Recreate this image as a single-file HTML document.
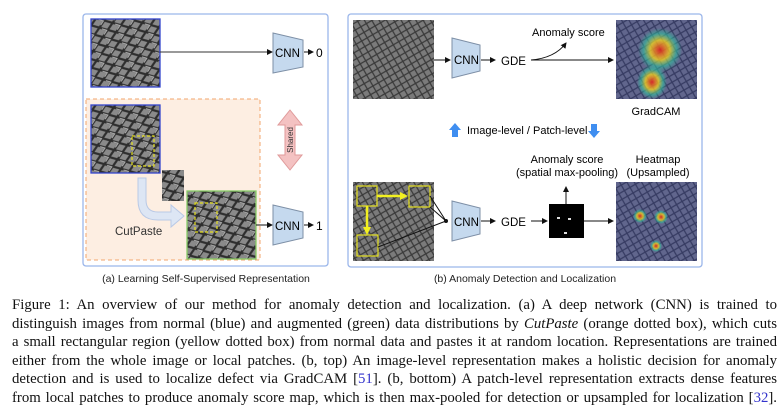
<!DOCTYPE html>
<html><head><meta charset="utf-8"><style>
body{margin:0;width:784px;height:410px;background:#fff;overflow:hidden;position:relative;}
svg{position:absolute;left:0;top:0;}
.cap{position:absolute;left:12px;width:765px;font-family:"Liberation Serif",serif;font-size:14.8px;color:#111;}
.cap div{height:18.6px;line-height:18.6px;text-align:justify;text-align-last:justify;overflow:hidden;}
.b{color:#3333cc}
</style></head><body>
<svg width="784" height="290" viewBox="0 0 784 290" font-family="Liberation Sans, sans-serif">
<defs>
<pattern id="mesh" width="14" height="10" patternUnits="userSpaceOnUse" patternTransform="rotate(-20)">
<rect width="14" height="10" fill="#8a8a8a"/>
<path d="M0 0 L7 5 L0 10 M14 0 L7 5 L14 10" stroke="#2e2e2e" stroke-width="2.2" fill="none"/>
<path d="M2 2 L6 5 L2 8" stroke="#b5b5b5" stroke-width="1" fill="none"/>
</pattern>
<pattern id="mesh2" width="9" height="9" patternUnits="userSpaceOnUse" patternTransform="rotate(15)">
<rect width="9" height="9" fill="#7b7b7b"/>
<path d="M0 0 L9 9 M9 0 L0 9" stroke="#3a3a3a" stroke-width="1.3"/>
</pattern>
<radialGradient id="hot"><stop offset="0" stop-color="#e02020" stop-opacity=".9"/><stop offset=".45" stop-color="#f0d020" stop-opacity=".8"/><stop offset=".75" stop-color="#30c0a0" stop-opacity=".6"/><stop offset="1" stop-color="#30c0a0" stop-opacity="0"/></radialGradient>
<marker id="ar" markerWidth="6" markerHeight="6" refX="5" refY="3" orient="auto"><path d="M0 0L6 3L0 6z" fill="#111"/></marker>
</defs>
<rect x="83" y="14" width="245" height="252" rx="3" fill="#fff" stroke="#9bb6ea" stroke-width="1.3"/>
<rect x="86" y="99" width="174" height="161" fill="#fdeee2" stroke="#f2a56c" stroke-dasharray="4 3"/>
<rect x="91" y="19" width="69" height="68" fill="url(#mesh)" stroke="#3344cc" stroke-width="1.3"/>
<line x1="160" y1="52" x2="272" y2="52" stroke="#333" marker-end="url(#ar)"/>
<path d="M273 33 L303 40 L303 67 L273 73z" fill="#c5d9ee" stroke="#7d8fa6"/>
<text x="275" y="57" font-size="11.5">CNN</text>
<line x1="304" y1="52" x2="313" y2="52" stroke="#111" marker-end="url(#ar)"/>
<text x="316" y="57" font-size="12">0</text>
<rect x="91" y="105" width="69" height="68" fill="url(#mesh)" stroke="#3344cc" stroke-width="1.3"/>
<rect x="132" y="136" width="22" height="30" fill="none" stroke="#e5e020" stroke-dasharray="3 2" stroke-width="1.2"/>
<rect x="162" y="170" width="22" height="31" fill="url(#mesh)"/>
<path d="M138 178 L146 178 L146 200 Q146 212 158 212 L171 212 L171 205 L184 216 L171 227 L171 220 L158 220 Q138 220 138 200z" fill="#dde6f4" stroke="#b9c9e6"/>
<text x="115" y="235" font-size="11.5" fill="#333">CutPaste</text>
<rect x="187" y="191" width="69" height="68" fill="url(#mesh)" stroke="#88cc66" stroke-width="1.3"/>
<rect x="195" y="203" width="22" height="29" fill="none" stroke="#e5e020" stroke-dasharray="3 2" stroke-width="1.2"/>
<line x1="256" y1="225" x2="272" y2="225" stroke="#111" marker-end="url(#ar)"/>
<path d="M273 205 L303 212 L303 238 L273 245z" fill="#c5d9ee" stroke="#7d8fa6"/>
<text x="275" y="230" font-size="11.5">CNN</text>
<line x1="304" y1="225" x2="313" y2="225" stroke="#111" marker-end="url(#ar)"/>
<text x="316" y="230" font-size="12">1</text>
<path d="M290 110 L302 125 L295 125 L295 155 L302 155 L290 170 L278 155 L285 155 L285 125 L278 125z" fill="#f4c2c2" stroke="#e09a9a"/>
<text transform="translate(293,140) rotate(-90)" font-size="8" text-anchor="middle" fill="#333">Shared</text>
<text x="206" y="282" font-size="10.5" text-anchor="middle" fill="#222">(a) Learning Self-Supervised Representation</text>
<rect x="348" y="14" width="354" height="253" rx="3" fill="#fff" stroke="#9bb6ea" stroke-width="1.3"/>
<rect x="353" y="20" width="81" height="79" fill="url(#mesh2)"/>
<line x1="434" y1="60" x2="450" y2="60" stroke="#111" marker-end="url(#ar)"/>
<path d="M452 38 L480 45 L480 71 L452 78z" fill="#c5d9ee" stroke="#7d8fa6"/>
<text x="454" y="64" font-size="11.5">CNN</text>
<line x1="481" y1="60" x2="495" y2="60" stroke="#111" marker-end="url(#ar)"/>
<text x="501" y="65" font-size="11.5">GDE</text>
<line x1="531" y1="60" x2="613" y2="60" stroke="#111" marker-end="url(#ar)"/>
<path d="M531 60 Q555 58 566 43" stroke="#111" fill="none" marker-end="url(#ar)"/>
<text x="532" y="36" font-size="11">Anomaly score</text>
<rect x="616" y="20" width="81" height="79" fill="url(#mesh2)"/>
<rect x="616" y="20" width="81" height="79" fill="#3040b0" opacity=".35"/>
<ellipse cx="660" cy="50" rx="22" ry="22" fill="url(#hot)"/>
<ellipse cx="652" cy="82" rx="15" ry="17" fill="url(#hot)"/>
<text x="656" y="115" font-size="11" text-anchor="middle">GradCAM</text>
<path d="M455 123 L461 130 L458 130 L458 137 L452 137 L452 130 L449 130z" fill="#3f8ef0"/>
<text x="467" y="134" font-size="11">Image-level / Patch-level</text>
<path d="M594 138 L600 131 L597 131 L597 124 L591 124 L591 131 L588 131z" fill="#3f8ef0"/>
<text x="567" y="163" font-size="11" text-anchor="middle">Anomaly score</text>
<text x="567" y="176" font-size="11" text-anchor="middle">(spatial max-pooling)</text>
<text x="658" y="163" font-size="11" text-anchor="middle">Heatmap</text>
<text x="658" y="176" font-size="11" text-anchor="middle">(Upsampled)</text>
<rect x="353" y="182" width="81" height="79" fill="url(#mesh2)"/>
<rect x="357" y="186" width="20" height="20" fill="none" stroke="#e5e020" stroke-width="1.2"/>
<rect x="409" y="186" width="21" height="21" fill="none" stroke="#e5e020" stroke-width="1.2"/>
<rect x="357" y="235" width="21" height="21" fill="none" stroke="#e5e020" stroke-width="1.2"/>
<path d="M377 196 L402 196" stroke="#f2f020" stroke-width="2.5"/><path d="M400 192 L408 196 L400 200z" fill="#f2f020"/>
<path d="M367 206 L367 228" stroke="#f2f020" stroke-width="2.5"/><path d="M363 227 L367 235 L371 227z" fill="#f2f020"/>
<path d="M430 196 L446 221 M430 207 L446 221 M378 247 L446 221" stroke="#111" fill="none"/>
<circle cx="446" cy="221" r="2" fill="#111"/>
<path d="M452 201 L480 208 L480 234 L452 241z" fill="#c5d9ee" stroke="#7d8fa6"/>
<text x="454" y="226" font-size="11.5">CNN</text>
<line x1="481" y1="221" x2="495" y2="221" stroke="#111" marker-end="url(#ar)"/>
<text x="501" y="226" font-size="11.5">GDE</text>
<line x1="531" y1="221" x2="547" y2="221" stroke="#111" marker-end="url(#ar)"/>
<rect x="549" y="204" width="35" height="34" fill="#000"/>
<rect x="557" y="217" width="3" height="2" fill="#ddd"/><rect x="568" y="218" width="3" height="2" fill="#ddd"/><rect x="564" y="232" width="3" height="2" fill="#ddd"/>
<line x1="566" y1="204" x2="566" y2="187" stroke="#111" marker-end="url(#ar)"/>
<line x1="584" y1="221" x2="613" y2="221" stroke="#111" marker-end="url(#ar)"/>
<rect x="616" y="182" width="81" height="79" fill="url(#mesh2)"/>
<rect x="616" y="182" width="81" height="79" fill="#3040b0" opacity=".35"/>
<circle cx="640" cy="216" r="7" fill="url(#hot)"/><circle cx="661" cy="217" r="7" fill="url(#hot)"/><circle cx="656" cy="246" r="6" fill="url(#hot)"/>
<text x="525" y="282" font-size="10.5" text-anchor="middle" fill="#222">(b) Anomaly Detection and Localization</text>
</svg>
<div class="cap" style="top:296px">
<div>Figure 1: An overview of our method for anomaly detection and localization. (a) A deep network (CNN) is trained to</div>
<div>distinguish images from normal (blue) and augmented (green) data distributions by <i>CutPaste</i> (orange dotted box), which cuts</div>
<div>a small rectangular region (yellow dotted box) from normal data and pastes it at random location. Representations are trained</div>
<div>either from the whole image or local patches. (b, top) An image-level representation makes a holistic decision for anomaly</div>
<div>detection and is used to localize defect via GradCAM [<span class="b">51</span>]. (b, bottom) A patch-level representation extracts dense features</div>
<div>from local patches to produce anomaly score map, which is then max-pooled for detection or upsampled for localization [<span class="b">32</span>].</div>
</div>
</body></html>
